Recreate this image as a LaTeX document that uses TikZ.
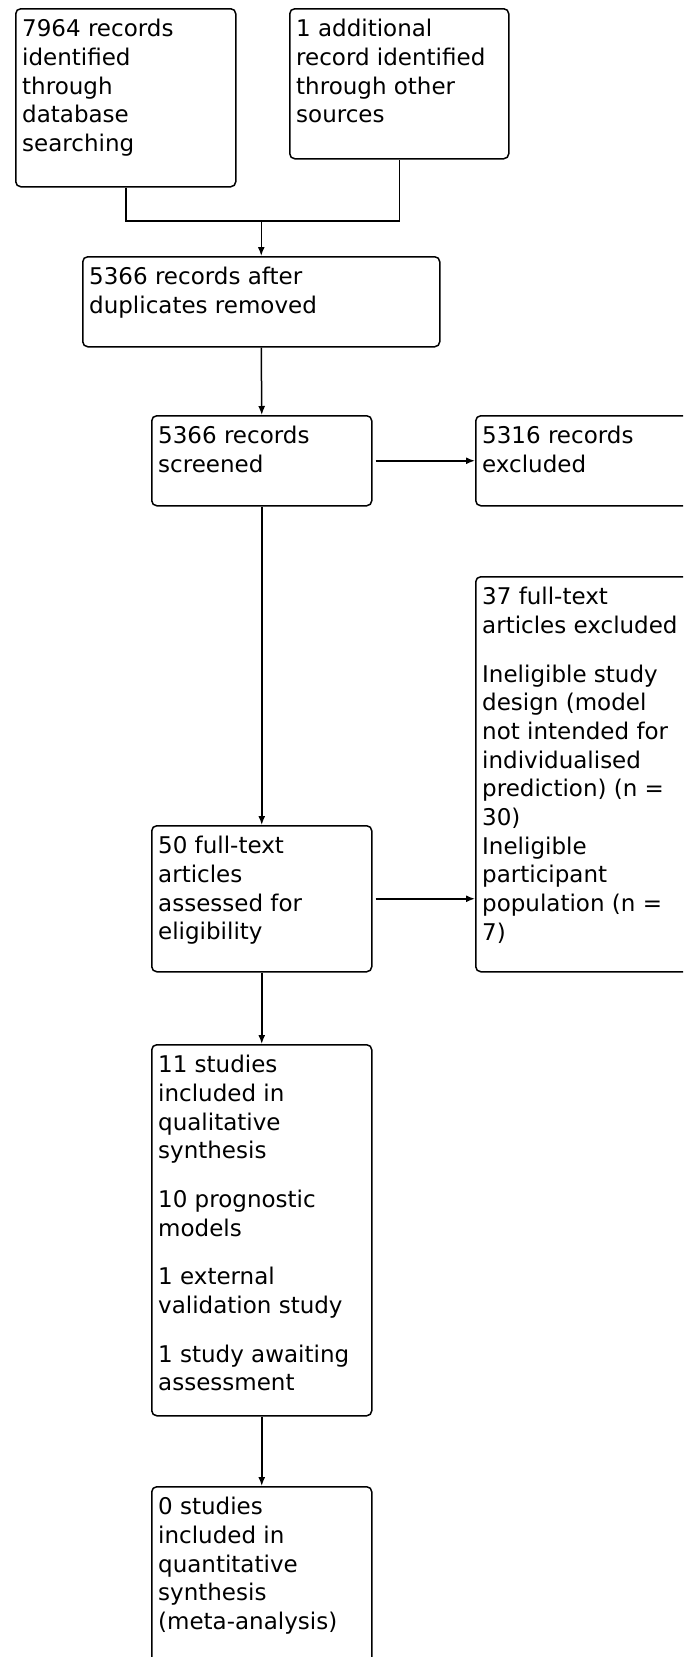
\documentclass[tikz,border=0pt]{standalone}
\usepackage{fontspec}
\setmainfont{DejaVu Sans}
\usetikzlibrary{arrows.meta,calc,positioning}
\tikzset{
  box/.style={draw, line width=1.5pt, rounded corners=5pt, anchor=north west, minimum width=220pt, inner sep=0pt},
  txt/.style={anchor=north west, align=left, inner xsep=7pt, inner ysep=11pt, font=\fontsize{23}{28.7}\selectfont},
  arr/.style={line width=1.5pt, -{Latex[length=9pt,width=7pt]}},
  lnk/.style={line width=1.5pt},
}

\begin{document}
\begin{tikzpicture}[x=1pt,y=-1pt]
\useasboundingbox (0,0) rectangle (683,1657);
\clip (0,0) rectangle (683,1657);
% boxes
\node[box, minimum height=178pt] (ident) at (15,8) {};
\node[box, minimum width=219pt, minimum height=150pt] (other) at (289,8) {};
\node[box, minimum width=357pt, minimum height=90pt] (dup) at (82,256) {};
\node[box, minimum height=90pt] (screen) at (151,415) {};
\node[box, minimum height=90pt] (excl) at (475,415) {};
\node[box, minimum height=395pt] (ftexcl) at (475,576) {};
\node[box, minimum height=146pt] (elig) at (151,825) {};
\node[box, minimum height=371pt] (qual) at (151,1044) {};
\node[box, minimum height=220pt] (quant) at (151,1486) {};
% texts
\node[txt] (ident-t) at (ident.north west) {7964 records\\identified\\through\\database\\searching};
\node[txt] (other-t) at (other.north west) {1 additional\\record identified\\through other\\sources};
\node[txt] (dup-t) at (dup.north west) {5366 records after\\duplicates removed};
\node[txt] (screen-t) at (screen.north west) {5366 records\\screened};
\node[txt] (excl-t) at (excl.north west) {5316 records\\excluded};
\node[txt] (ftexcl-t) at (ftexcl.north west) {37 full-text\\articles excluded\\[20pt]Ineligible study\\design (model\\not intended for\\individualised\\prediction) (n =\\30)\\Ineligible\\participant\\population (n =\\7)};
\node[txt] (elig-t) at (elig.north west) {50 full-text\\articles\\assessed for\\eligibility};
\node[txt] (qual-t) at (qual.north west) {11 studies\\included in\\qualitative\\synthesis\\[20pt]10 prognostic\\models\\[20pt]1 external\\validation study\\[20pt]1 study awaiting\\assessment};
\node[txt] (quant-t) at (quant.north west) {0 studies\\included in\\quantitative\\synthesis\\(meta-analysis)};
% connectors
\coordinate (join) at ($(dup.north)+(0,-35)$);
\draw[lnk] (ident.south) |- (join) -| (other.south);
\draw[arr] (join) -- (dup.north);
\draw[arr] (dup.south) -- (screen.north);
\draw[arr, shorten <=3pt] (screen.east) -- (excl.west);
\draw[arr] (screen.south) -- (elig.north);
\draw[arr, shorten <=3pt] (elig.east) -- (elig.east -| ftexcl.west);
\draw[arr] (elig.south) -- (qual.north);
\draw[arr] (qual.south) -- (quant.north);
\end{tikzpicture}
\end{document}
